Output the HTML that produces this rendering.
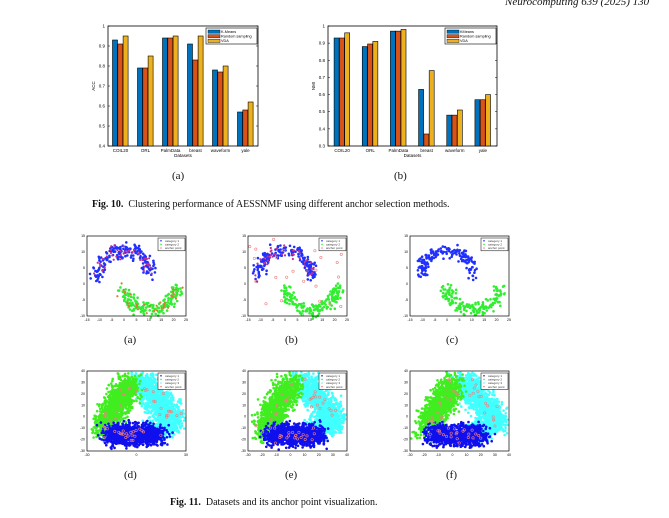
<!DOCTYPE html>
<html><head><meta charset="utf-8">
<style>
html,body{margin:0;padding:0;background:#fff;}
body{width:669px;height:518px;position:relative;overflow:hidden;font-family:"Liberation Serif",serif;}
.t{position:absolute;white-space:nowrap;color:#111;}
</style></head><body>
<div class="t" style="left:505px;top:-4px;font-size:11px;font-style:italic;">Neurocomputing 639 (2025) 130</div>
<svg id="s" width="669" height="518" style="position:absolute;left:0;top:0" font-family="Liberation Sans, sans-serif"></svg>
<div class="t" style="left:172px;top:170px;font-size:11px;">(a)</div>
<div class="t" style="left:394px;top:170px;font-size:11px;">(b)</div>
<div class="t" style="left:92px;top:199px;font-size:10px;"><b>Fig. 10.</b>&nbsp; Clustering performance of AESSNMF using different anchor selection methods.</div>
<div class="t" style="left:124px;top:334px;font-size:11px;">(a)</div>
<div class="t" style="left:285px;top:334px;font-size:11px;">(b)</div>
<div class="t" style="left:446px;top:334px;font-size:11px;">(c)</div>
<div class="t" style="left:124px;top:469px;font-size:11px;">(d)</div>
<div class="t" style="left:285px;top:469px;font-size:11px;">(e)</div>
<div class="t" style="left:446px;top:469px;font-size:11px;">(f)</div>
<div class="t" style="left:170px;top:497px;font-size:10px;"><b>Fig. 11.</b>&nbsp; Datasets and its anchor point visualization.</div>
<script>
var s=document.getElementById('s'),h='';
var seed=7;function r(){seed=(seed*16807)%2147483647;return seed/2147483647;}
function g(){return (r()+r()+r()-1.5)*1.3;}
var C=['#0072BD','#D95319','#EDB120'];
function bar(x0,x1,y0,y1,mn,mx,ticks,data,lab,leg){
 var W=x1-x0,H=y1-y0,gw=W/6;
 h+='<rect x="'+x0+'" y="'+y0+'" width="'+W+'" height="'+H+'" fill="#fff" stroke="#000" stroke-width="0.8"/>';
 ticks.forEach(function(t){var y=y1-(t-mn)/(mx-mn)*H;h+='<line x1="'+x0+'" x2="'+(x0+2)+'" y1="'+y+'" y2="'+y+'" stroke="#000" stroke-width=".5"/><line x1="'+x1+'" x2="'+(x1-2)+'" y1="'+y+'" y2="'+y+'" stroke="#000" stroke-width=".5"/><text x="'+(x0-3)+'" y="'+(y+1.5)+'" font-size="4.5" text-anchor="end">'+t+'</text>';});
 var names=['COIL20','ORL','PalmData','breast','waveform','yale'];
 data.forEach(function(d,i){var cx=x0+gw*(i+.5);d.forEach(function(v,j){var y=y1-(v-mn)/(mx-mn)*H;h+='<rect x="'+(cx-8+j*5.3)+'" y="'+y+'" width="5" height="'+(y1-y)+'" fill="'+C[j]+'" stroke="#000" stroke-width=".6"/>';});
 h+='<text x="'+cx+'" y="'+(y1+6)+'" font-size="4.5" text-anchor="middle">'+names[i]+'</text>';});
 h+='<text x="'+(x0+W/2)+'" y="'+(y1+11)+'" font-size="4.5" text-anchor="middle">Datasets</text>';
 h+='<text transform="translate('+(x0-13)+','+(y0+H/2)+') rotate(-90)" font-size="4.5" text-anchor="middle">'+lab+'</text>';
 var lx=x1-52,ly=y0+2;h+='<rect x="'+lx+'" y="'+ly+'" width="51" height="16" fill="#fff" stroke="#000" stroke-width=".6"/>';
 leg.forEach(function(n,j){h+='<rect x="'+(lx+2)+'" y="'+(ly+2+j*4.6)+'" width="12" height="3.3" fill="'+C[j]+'" stroke="#000" stroke-width=".4"/><text x="'+(lx+15)+'" y="'+(ly+5+j*4.6)+'" font-size="3.8">'+n+'</text>';});
}
bar(108,258,26,146,0.4,1,[0.4,0.5,0.6,0.7,0.8,0.9,1],[[.93,.91,.95],[.79,.79,.85],[.94,.94,.95],[.91,.83,.95],[.78,.77,.80],[.57,.58,.62]],'ACC',['K-Means','Random sampling','VDA']);
bar(328,497,26,146,0.3,1,[0.3,0.4,0.5,0.6,0.7,0.8,0.9,1],[[.93,.93,.96],[.88,.895,.91],[.97,.97,.98],[.63,.37,.74],[.48,.48,.51],[.57,.57,.60]],'NMI',['KMeans','Random sampling','VDA']);
function dot(x,y,c,rad){h+='<circle cx="'+x.toFixed(1)+'" cy="'+y.toFixed(1)+'" r="'+(rad||1.3)+'" fill="'+c+'"/>';}
function star(x,y){h+='<circle cx="'+x.toFixed(1)+'" cy="'+y.toFixed(1)+'" r="1.2" fill="none" stroke="#f08080" stroke-width=".6"/>';}
function frame(x0,y0,x1,y1,xt,yt,leg){
 h+='<rect x="'+x0+'" y="'+y0+'" width="'+(x1-x0)+'" height="'+(y1-y0)+'" fill="none" stroke="#000" stroke-width=".7"/>';
 xt.forEach(function(t,i){var x=x0+(x1-x0)*i/(xt.length-1);h+='<text x="'+x+'" y="'+(y1+5)+'" font-size="3.5" text-anchor="middle">'+t+'</text>';});
 yt.forEach(function(t,i){var y=y1-(y1-y0)*i/(yt.length-1);h+='<text x="'+(x0-2)+'" y="'+(y+1)+'" font-size="3.5" text-anchor="end">'+t+'</text>';});
 var lx=x1-28,ly=y0+2,lc=leg.length;h+='<rect x="'+lx+'" y="'+ly+'" width="27" height="'+(lc*3.6+2)+'" fill="#fff" stroke="#000" stroke-width=".5"/>';
 leg.forEach(function(l,j){dot(lx+3,ly+2.8+j*3.6,l[0],0.8);h+='<text x="'+(lx+7)+'" y="'+(ly+4+j*3.6)+'" font-size="3" fill="#333">'+l[1]+'</text>';});
}
function moons(x0,y0,mode){
 var W=99,H=80,x1=x0+W,y1=y0+H;
 function px(v){return x0+(v+15)/40*W;} function py(v){return y1-(v+10)/25*H;}
 var i,a,x,y,n=2.0;
 for(i=0;i<170;i++){a=Math.PI*r();x=0-10.5*Math.cos(a)+g()*n;y=2.5+8*Math.sin(a)+g()*n*.8;dot(px(x),py(y),'#2030ff');}
 for(i=0;i<170;i++){a=Math.PI*r();x=10.5-10.5*Math.cos(a)+g()*n;y=-1-7*Math.sin(a)+g()*n*.8;dot(px(x),py(y),'#30ee30');}
 if(mode==0){for(i=0;i<45;i++){a=Math.PI*r();dot(px(0-10.5*Math.cos(a)+g()*n),py(2.5+8*Math.sin(a)+g()*n*.8),'#c03090',1.1);}
  for(i=0;i<35;i++){a=Math.PI*r();dot(px(10.5-10.5*Math.cos(a)+g()*n),py(-1-7*Math.sin(a)+g()*n*.8),'#d08030',1.1);}}
 if(mode==1){for(i=0;i<40;i++){a=Math.PI*r();dot(px(0-10.5*Math.cos(a)+g()*n),py(2.5+8*Math.sin(a)+g()*n*.8),'#c03090',1.1);}
  for(i=0;i<25;i++){star(px(-15+40*r()),py(-10+25*r()));}}
 frame(x0,y0,x1,y1,['-15','-10','-5','0','5','10','15','20','25'],['-10','-5','0','5','10','15'],[['#2030ff','category 1'],['#30ee30','category 2'],['#f08080','anchor point']]);
}
function tri(x0,y0,mode){
 var W=99,H=80,x1=x0+W,y1=y0+H,i,t,x,y,k;
 function seg(A,B,n,col,w){for(var i=0;i<n;i++){var t=r();var x=A[0]+(B[0]-A[0])*t+g()*w,y=A[1]+(B[1]-A[1])*t+g()*w;if(x>x0+1&&x<x1-1&&y>y0+1&&y<y1-1)dot(x,y,col,1.3);}}
 seg([x0+55,y0+10],[x0+88,y1-30],1100,'#40ffff',10);
 seg([x0+62,y1-18],[x0+88,y1-28],400,'#40ffff',8);
 seg([x0+16,y1-22],[x0+44,y0+12],1100,'#40ee20',10);
 seg([x0+22,y1-16],[x0+72,y1-16],1100,'#1010ee',8);
 for(i=0;i<55;i++){t=r();k=r();
  if(k<.33){x=x0+16+28*t;y=y1-22-(y1-34-y0)*t;}else if(k<.66){x=x0+55+33*t;y=y0+10+(y1-40-y0)*t;}else{x=x0+22+50*t;y=y1-16;}
  star(x+g()*7,y+g()*6);}
 frame(x0,y0,x1,y1,mode==0?['-30','0','30']:['-30','-20','-10','0','10','20','30','40'],['-30','-20','-10','0','10','20','30','40'],[['#1010ee','category 1'],['#30ee30','category 2'],['#40ffff','category 3'],['#f08080','anchor point']]);
}
moons(87,236,0);moons(248,236,1);moons(410,236,2);
tri(87,371,0);tri(248,371,1);tri(410,371,1);
s.innerHTML=h;
</script>
</body></html>
